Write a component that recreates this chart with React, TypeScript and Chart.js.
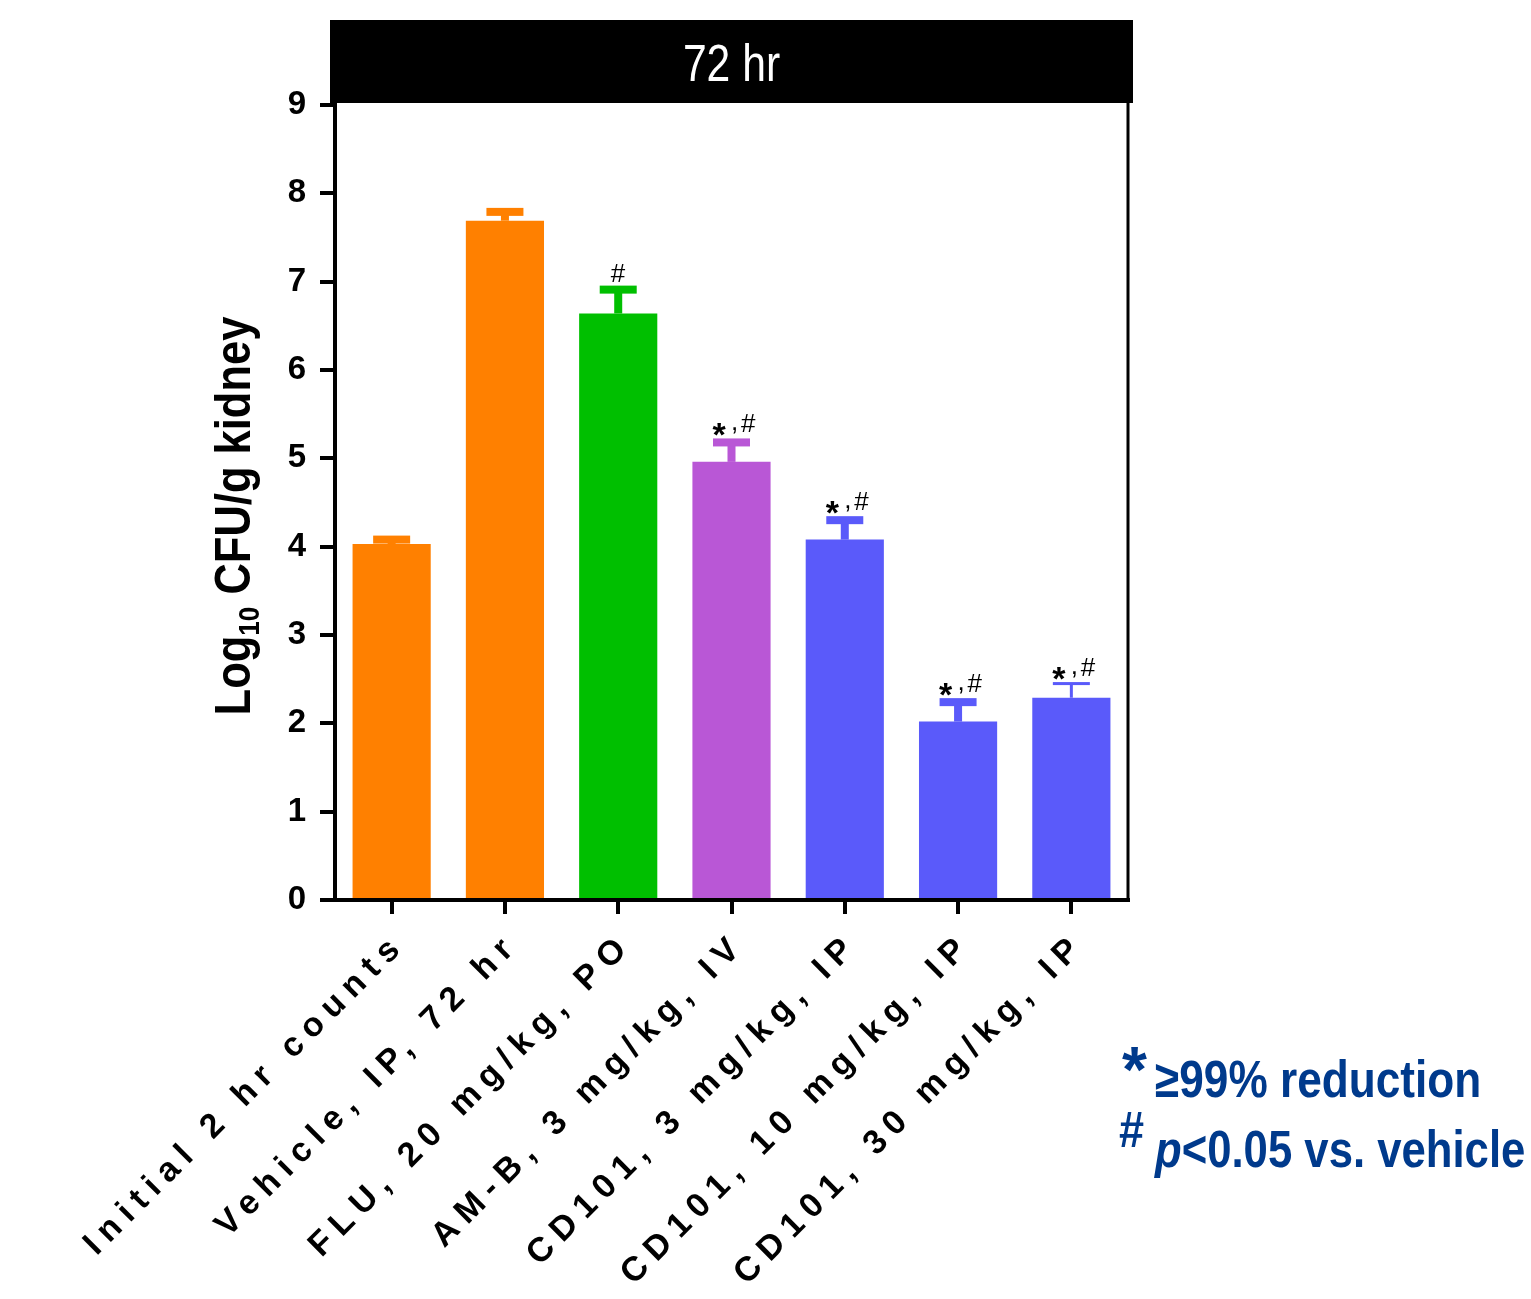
import React, { useEffect, useRef } from "react";
import { Chart, registerables } from "chart.js";

Chart.register(...registerables);

const categories = [
  "Initial 2 hr counts",
  "Vehicle, IP, 72 hr",
  "FLU, 20 mg/kg, PO",
  "AM-B, 3 mg/kg, IV",
  "CD101, 3 mg/kg, IP",
  "CD101, 10 mg/kg, IP",
  "CD101, 30 mg/kg, IP",
];
const means = [4.03, 7.69, 6.64, 4.96, 4.08, 2.02, 2.29];
const errorTops = [4.08, 7.79, 6.91, 5.18, 4.3, 2.24, 2.45];
const annotations = ["", "", "#", "*,#", "*,#", "*,#", "*,#"];
const panelTitle = "72 hr";
const yTitleMain = "Log";
const yTitleSub = "10";
const yTitleRest = " CFU/g kidney";
const legendLine1 = "≥99% reduction";
const legendLine2a = "p";
const legendLine2b = "<0.05 vs. vehicle";

const barColors = ["#FF8000", "#FF8000", "#00BF00", "#B957D6", "#5A5AFA", "#5A5AFA", "#5A5AFA"];
const capThick = [8, 8, 8, 8, 8, 8, 3];
const FONT = "'Liberation Sans', Arial, Helvetica, sans-serif";
const NAVY = "#003A8C";

function drawGlyphBox(ctx: CanvasRenderingContext2D, text: string, font: string, left: number, top: number, sx = 1) {
  ctx.save();
  ctx.font = font;
  ctx.textAlign = "left";
  ctx.textBaseline = "alphabetic";
  const m = ctx.measureText(text);
  ctx.translate(left, top + m.actualBoundingBoxAscent);
  ctx.scale(sx, 1);
  ctx.fillText(text, m.actualBoundingBoxLeft, 0);
  ctx.restore();
}

function drawCenteredBottom(ctx: CanvasRenderingContext2D, text: string, font: string, cx: number, bottom: number) {
  ctx.save();
  ctx.font = font;
  ctx.textAlign = "left";
  ctx.textBaseline = "alphabetic";
  const m = ctx.measureText(text);
  const w = m.actualBoundingBoxLeft + m.actualBoundingBoxRight;
  ctx.fillText(text, cx - w / 2 + m.actualBoundingBoxLeft, bottom - m.actualBoundingBoxDescent);
  ctx.restore();
}

const decorPlugin = {
  id: "decor",
  afterDatasetsDraw(chart: any) {
    const ctx: CanvasRenderingContext2D = chart.ctx;
    const y = chart.scales.y;
    const meta = chart.getDatasetMeta(0);
    meta.data.forEach((bar: any, i: number) => {
      const x = bar.x;
      const yTop = bar.y;
      const yErr = y.getPixelForValue(errorTops[i]);
      const th = capThick[i];
      ctx.save();
      ctx.fillStyle = barColors[i];
      ctx.fillRect(x - th / 2, yErr, th, yTop - yErr);
      ctx.fillRect(x - 18.5, yErr - th / 2, 37, th);
      ctx.restore();
      const T = yErr - th / 2;
      ctx.save();
      ctx.fillStyle = "#000";
      const a = annotations[i];
      if (a === "#") {
        drawCenteredBottom(ctx, "#", `26px ${FONT}`, x, T - 4);
      } else if (a === "*,#") {
        drawCenteredBottom(ctx, "*", `bold 34px ${FONT}`, x - 12, T - 2);
        ctx.font = `26px ${FONT}`;
        ctx.textAlign = "center";
        ctx.fillText(",", x + 3, T - 8);
        drawCenteredBottom(ctx, "#", `26px ${FONT}`, x + 17, T - 6);
      }
      ctx.restore();
    });
  },
  afterDraw(chart: any) {
    const ctx: CanvasRenderingContext2D = chart.ctx;
    const ca = chart.chartArea;
    const xs = chart.scales.x;
    // right frame
    ctx.save();
    ctx.strokeStyle = "#000";
    ctx.lineWidth = 3;
    ctx.beginPath();
    ctx.moveTo(ca.right, ca.top - 2);
    ctx.lineTo(ca.right, ca.bottom);
    ctx.stroke();
    ctx.restore();

    // title bar
    ctx.save();
    ctx.fillStyle = "#000";
    ctx.fillRect(ca.left - 5, 20, ca.right - ca.left + 10, 83);
    ctx.fillStyle = "#fff";
    ctx.font = `52px ${FONT}`;
    ctx.textBaseline = "alphabetic";
    ctx.textAlign = "center";
    ctx.translate((ca.left + ca.right) / 2, 81);
    ctx.scale(0.82, 1);
    ctx.fillText(panelTitle, 0, 0);
    ctx.restore();

    // x labels
    categories.forEach((lab, i) => {
      const x = xs.getPixelForTick(i);
      ctx.save();
      ctx.fillStyle = "#000";
      ctx.font = `bold 34px ${FONT}`;
      (ctx as any).letterSpacing = "8.3px";
      ctx.textAlign = "right";
      ctx.textBaseline = "middle";
      ctx.translate(x + 3, 945);
      ctx.rotate(-Math.PI / 4);
      ctx.fillText(lab, 8.3, 0);
      ctx.restore();
    });

    // y title
    ctx.save();
    ctx.fillStyle = "#000";
    const fMain = `bold 50px ${FONT}`;
    const fSub = `bold 30px ${FONT}`;
    ctx.font = fMain;
    const w1 = ctx.measureText(yTitleMain).width;
    const w3 = ctx.measureText(yTitleRest).width;
    ctx.font = fSub;
    const w2 = ctx.measureText(yTitleSub).width;
    const total = w1 + w2 + w3;
    ctx.translate(250, 516);
    ctx.rotate(-Math.PI / 2);
    ctx.scale(0.87, 1);
    ctx.textAlign = "left";
    ctx.textBaseline = "alphabetic";
    let px = -total / 2;
    ctx.font = fMain;
    ctx.fillText(yTitleMain, px, 0);
    px += w1;
    ctx.font = fSub;
    ctx.fillText(yTitleSub, px, 9);
    px += w2;
    ctx.font = fMain;
    ctx.fillText(yTitleRest, px, 0);
    ctx.restore();

    // legend
    ctx.save();
    ctx.fillStyle = NAVY;
    drawGlyphBox(ctx, "*", `bold 64px ${FONT}`, 1122, 1047, 1);
    drawGlyphBox(ctx, "#", `bold 50px ${FONT}`, 1119, 1112, 0.9);
    ctx.font = `bold 52px ${FONT}`;
    ctx.textAlign = "left";
    ctx.textBaseline = "alphabetic";
    ctx.save();
    ctx.translate(1155, 1097);
    ctx.scale(0.85, 1);
    ctx.fillText(legendLine1, 0, 0);
    ctx.restore();
    ctx.save();
    ctx.translate(1155, 1167);
    ctx.scale(0.84, 1);
    ctx.font = `italic bold 52px ${FONT}`;
    const wp = ctx.measureText(legendLine2a).width;
    ctx.fillText(legendLine2a, 0, 0);
    ctx.font = `bold 52px ${FONT}`;
    ctx.fillText(legendLine2b, wp, 0);
    ctx.restore();
    ctx.restore();
  },
};

export default function App() {
  const ref = useRef<HTMLCanvasElement | null>(null);
  useEffect(() => {
    if (!ref.current) return;
    Chart.defaults.font.family = FONT;
    const chart = new Chart(ref.current, {
      type: "bar",
      data: {
        labels: categories,
        datasets: [
          {
            data: means,
            backgroundColor: barColors,
            borderWidth: 0,
            categoryPercentage: 1,
            barPercentage: 0.69,
          },
        ],
      },
      options: {
        responsive: false,
        animation: false,
        layout: { padding: { top: 105, right: 403, bottom: 0, left: 0 } },
        plugins: { legend: { display: false }, tooltip: { enabled: false }, title: { display: false } },
        scales: {
          x: {
            ticks: { display: false },
            grid: {
              offset: false,
              drawOnChartArea: false,
              drawTicks: true,
              tickLength: 14,
              tickWidth: 4,
              lineWidth: 4,
              color: "#000",
            },
            border: { display: true, color: "#000", width: 4 },
            afterFit: (s: any) => {
              s.height = 399;
            },
          },
          y: {
            min: 0,
            max: 9,
            ticks: { stepSize: 1, color: "#000", font: { size: 33, weight: "bold" }, padding: 14 },
            grid: {
              drawOnChartArea: false,
              drawTicks: true,
              tickLength: 15,
              tickWidth: 4,
              lineWidth: 4,
              color: "#000",
            },
            border: { display: true, color: "#000", width: 4 },
            afterFit: (s: any) => {
              s.width = 335;
            },
          },
        },
      },
      plugins: [decorPlugin],
    } as any);
    return () => chart.destroy();
  }, []);
  return (
    <div style={{ position: "absolute", left: 0, top: 0, width: 1531, height: 1299, background: "#fff" }}>
      <canvas ref={ref} width={1531} height={1299} style={{ width: 1531, height: 1299, display: "block" }} />
    </div>
  );
}
